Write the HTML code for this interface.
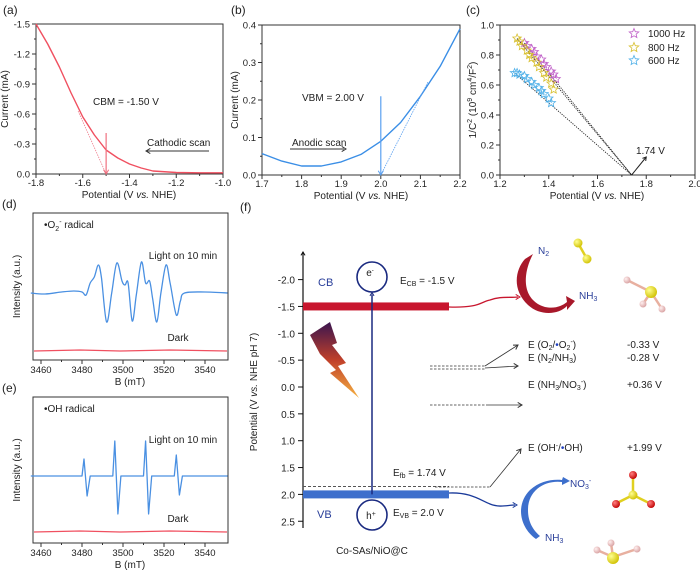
<!DOCTYPE html>
<html><head><meta charset="utf-8"><style>
html,body{margin:0;padding:0;background:#fff;}
svg{display:block;font-family:"Liberation Sans",Arial,sans-serif;}
</style></head><body>
<svg id="fig" width="700" height="574" viewBox="0 0 700 574" xmlns="http://www.w3.org/2000/svg">
<defs>
<linearGradient id="bolt" x1="0" y1="0" x2="0" y2="1"><stop offset="0" stop-color="#3a1550"/><stop offset="0.5" stop-color="#c0402a"/><stop offset="1" stop-color="#f5b040"/></linearGradient>
<radialGradient id="yb" cx="0.35" cy="0.35" r="0.7"><stop offset="0" stop-color="#ffff90"/><stop offset="1" stop-color="#d0c000"/></radialGradient>
<radialGradient id="pb" cx="0.35" cy="0.35" r="0.7"><stop offset="0" stop-color="#fff0f0"/><stop offset="1" stop-color="#d8a0a0"/></radialGradient>
<radialGradient id="rb" cx="0.35" cy="0.35" r="0.7"><stop offset="0" stop-color="#ff8080"/><stop offset="1" stop-color="#c00000"/></radialGradient>
</defs>
</svg>
<script>
// ---------- data ----------
const aX = [-1.8,-1.75,-1.7,-1.65,-1.6,-1.55,-1.5,-1.45,-1.4,-1.35,-1.3,-1.2,-1.1,-1.0];
const aY = [-1.5,-1.3,-1.07,-0.81,-0.57,-0.39,-0.24,-0.16,-0.1,-0.06,-0.03,-0.015,-0.012,-0.012];
const aTangent = [[-1.62,-0.63],[-1.5,0]];
const aTicksX = [-1.8,-1.6,-1.4,-1.2,-1.0];
const aTicksY = [0,-0.3,-0.6,-0.9,-1.2,-1.5];

const bX = [1.7,1.75,1.8,1.85,1.9,1.95,2.0,2.05,2.1,2.15,2.2];
const bY = [0.057,0.037,0.024,0.024,0.035,0.055,0.09,0.14,0.21,0.29,0.39];
const bTangent = [[2.0,0],[2.12,0.25]];
const bTicksX = [1.7,1.8,1.9,2.0,2.1,2.2];
const bTicksY = [0.0,0.1,0.2,0.3,0.4];

const cX1000 = [1.30,1.31,1.33,1.34,1.35,1.37,1.38,1.39,1.41,1.42,1.43];
const cY1000 = [0.88,0.86,0.84,0.82,0.79,0.77,0.74,0.72,0.69,0.67,0.64];
const cX800 = [1.27,1.28,1.29,1.31,1.32,1.33,1.35,1.36,1.38,1.39,1.41,1.42];
const cY800 = [0.91,0.89,0.86,0.83,0.80,0.78,0.75,0.72,0.68,0.65,0.61,0.57];
const cX600 = [1.26,1.27,1.28,1.30,1.31,1.33,1.34,1.36,1.37,1.38,1.40,1.41];
const cY600 = [0.68,0.68,0.67,0.66,0.64,0.62,0.60,0.58,0.56,0.54,0.51,0.48];
const cFb = 1.74;
const cTicksX = [1.2,1.4,1.6,1.8,2.0];
const cTicksY = [0.0,0.2,0.4,0.6,0.8,1.0];

const dB = [3455,3462,3470,3476,3480,3482,3484,3486,3488,3489.5,3492,3494.5,3497,3499.5,3501,3502.5,3504.5,3506.5,3509,3511,3513,3514.5,3516.5,3518.5,3521,3523,3526,3528,3530,3540,3551];
const dI = [0,-1,1,2,1,-2,10,16,28,15,-29,0,30,12,8,10,-28,-2,31,10,12,-6,-29,0,28,10,-22,-8,0,1,0];
const eB = [3455,3480,3481,3482.5,3484,3495,3496,3497.5,3499,3510,3511,3512.5,3514,3525,3526,3527.5,3529,3551];
const eI = [0,0,17,-20,0,0,35,-38,0,0,35,-38,0,0,21,-19,0,0];
const espTicks = [3460,3480,3500,3520,3540];

const fTicks = [-2.0,-1.5,-1.0,-0.5,0.0,0.5,1.0,1.5,2.0,2.5];
const fCB = -1.5, fVB = 2.0, fFb = 1.74;

// ---------- helpers ----------
const NS = "http://www.w3.org/2000/svg";
const svg = document.getElementById('fig');
function mk(tag, attrs, name, parent) {
  const el = document.createElementNS(NS, tag);
  for (const k in attrs) el.setAttribute(k, attrs[k]);
  
  
  (parent || svg).appendChild(el);
  return el;
}
function txt(x, y, s, name, opt) {
  opt = opt || {};
  const t = mk('text', {x:x, y:y, 'font-size':opt.fs||10, fill:opt.fill||'#222', 'text-anchor':opt.anchor||'start'}, name);
  if (opt.rot) t.setAttribute('transform', `rotate(${opt.rot} ${x} ${y})`);
  t.innerHTML = s;
  return t;
}
function line(x1,y1,x2,y2,name,st,w,dash){
  const l = mk('line',{x1:x1,y1:y1,x2:x2,y2:y2,stroke:st||'#333','stroke-width':w||1},name);
  if(dash) l.setAttribute('stroke-dasharray',dash);
  return l;
}
function poly(pts,name,st,w,dash){
  const p = mk('polyline',{points:pts.map(p=>p[0].toFixed(1)+','+p[1].toFixed(1)).join(' '),fill:'none',stroke:st,'stroke-width':w||1.3,'stroke-linejoin':'round'},name);
  if(dash) p.setAttribute('stroke-dasharray',dash);
  return p;
}
function smooth(pts,name,st,w){
  let d='M'+pts[0][0].toFixed(1)+','+pts[0][1].toFixed(1);
  for(let i=0;i<pts.length-1;i++){
    const p0=pts[Math.max(i-1,0)],p1=pts[i],p2=pts[i+1],p3=pts[Math.min(i+2,pts.length-1)];
    const c1=[p1[0]+(p2[0]-p0[0])/6,p1[1]+(p2[1]-p0[1])/6],c2=[p2[0]-(p3[0]-p1[0])/6,p2[1]-(p3[1]-p1[1])/6];
    d+=` C${c1[0].toFixed(1)},${c1[1].toFixed(1)} ${c2[0].toFixed(1)},${c2[1].toFixed(1)} ${p2[0].toFixed(1)},${p2[1].toFixed(1)}`;
  }
  return mk('path',{d:d,fill:'none',stroke:st,'stroke-width':w||1.3},name);
}
function arrowHead(x,y,ang,name,col,sz){
  sz=sz||5;
  const a1=ang+2.6,a2=ang-2.6;
  return mk('path',{d:`M${x+sz*Math.cos(a1)},${y+sz*Math.sin(a1)} L${x},${y} L${x+sz*Math.cos(a2)},${y+sz*Math.sin(a2)}`,fill:'none',stroke:col,'stroke-width':1},name);
}
function frame(x0,y0,x1,y1,name){
  mk('rect',{x:x0,y:y0,width:x1-x0,height:y1-y0,fill:'none',stroke:'#333','stroke-width':1},name);
}
function xTicks(vals,sx,yb,fmt,name,minor){
  vals.forEach((v,i)=>{
    line(sx(v),yb,sx(v),yb+4,name+'-tick');
    txt(sx(v),yb+12,fmt(v),name+'-label',{anchor:'middle',fs:9.5});
    if(minor && i<vals.length-1){const m=sx((v+vals[i+1])/2);line(m,yb,m,yb+2,name+'-minor-tick');}
  });
}
function yTicks(vals,sy,xl,fmt,name,minor){
  vals.forEach((v,i)=>{
    line(xl-4,sy(v),xl,sy(v),name+'-tick');
    txt(xl-6,sy(v)+3.5,fmt(v),name+'-label',{anchor:'end',fs:9.5});
    if(minor && i<vals.length-1){const m=sy((v+vals[i+1])/2);line(xl-2,m,xl,m,name+'-minor-tick');}
  });
}
function star(cx,cy,r,col,name){
  let d='';
  for(let k=0;k<10;k++){const rr=k%2?r*0.45:r;const a=-Math.PI/2+k*Math.PI/5;d+=(k?'L':'M')+(cx+rr*Math.cos(a)).toFixed(1)+','+(cy+rr*Math.sin(a)).toFixed(1);}
  mk('path',{d:d+'Z',fill:'none',stroke:col,'stroke-width':0.8},name);
}

// ---------- panel a ----------
const xa=v=>36+(v+1.8)/0.8*187, ya=v=>24+(v+1.5)/1.5*150;
txt(3,14,'(a)','panel-a-label',{fs:12});
frame(36,24,223,174,'panel-a-frame');
xTicks(aTicksX,xa,174,v=>v.toFixed(1),'a-x',true);
yTicks(aTicksY,ya,36,v=>v===0?'0.0':v.toFixed(1),'a-y',true);
txt(129,198,'Potential (V <tspan font-style="italic">vs.</tspan> NHE)','a-x-title',{anchor:'middle'});
txt(8,99,'Current (mA)','a-y-title',{anchor:'middle',rot:-90});
poly(aX.map((x,i)=>[xa(x),ya(aY[i])]),'a-current-curve','#f05060',1.4);
poly(aTangent.map(p=>[xa(p[0]),ya(p[1])]),'a-tangent-line','#f08090',0.8,'1.5,1');
line(xa(-1.5),ya(-0.41),xa(-1.5),ya(0)-1,'a-cbm-arrow','#f07080',1.2);
arrowHead(xa(-1.5),ya(0),Math.PI/2,'a-cbm-arrowhead','#f07080',5);
txt(93,105,'CBM = -1.50 V','a-cbm-text');
txt(147,146,'Cathodic scan','a-scan-text');
line(147,151,209,151,'a-scan-arrow','#333',1);
arrowHead(146,151,Math.PI,'a-scan-arrowhead','#333',5);

// ---------- panel b ----------
const xb=v=>262+(v-1.7)/0.5*198, yb=v=>175-v/0.4*150;
txt(231,14,'(b)','panel-b-label',{fs:12});
frame(262,25,460,175,'panel-b-frame');
xTicks(bTicksX,xb,175,v=>v.toFixed(1),'b-x',true);
yTicks(bTicksY,yb,262,v=>v.toFixed(1),'b-y',true);
txt(361,199,'Potential (V <tspan font-style="italic">vs.</tspan> NHE)','b-x-title',{anchor:'middle'});
txt(238,100,'Current (mA)','b-y-title',{anchor:'middle',rot:-90});
poly(bX.map((x,i)=>[xb(x),yb(bY[i])]),'b-current-curve','#3a8ee6',1.4);
poly(bTangent.map(p=>[xb(p[0]),yb(p[1])]),'b-tangent-line','#5aa0f0',0.8,'1.5,1');
line(xb(2.0),yb(0.21),xb(2.0),yb(0)-1,'b-vbm-arrow','#5aa0f0',1.2);
arrowHead(xb(2.0),yb(0),Math.PI/2,'b-vbm-arrowhead','#5aa0f0',5);
txt(302,101,'VBM = 2.00 V','b-vbm-text');
txt(292,146,'Anodic scan','b-scan-text');
line(290,149,344,149,'b-scan-arrow','#333',1);
arrowHead(346,149,0,'b-scan-arrowhead','#333',5);

// ---------- panel c ----------
const xc=v=>500+(v-1.2)/0.8*195, yc=v=>175-v*150;
txt(466,14,'(c)','panel-c-label',{fs:12});
frame(500,25,695,175,'panel-c-frame');
xTicks(cTicksX,xc,175,v=>v.toFixed(1),'c-x',true);
yTicks(cTicksY,yc,500,v=>v.toFixed(1),'c-y',true);
txt(597,199,'Potential (V <tspan font-style="italic">vs.</tspan> NHE)','c-x-title',{anchor:'middle'});
txt(476,100,'1/C<tspan font-size="7" dy="-4">2</tspan><tspan dy="4"> (10</tspan><tspan font-size="7" dy="-4">9</tspan><tspan dy="4"> cm</tspan><tspan font-size="7" dy="-4">4</tspan><tspan dy="4">/F</tspan><tspan font-size="7" dy="-4">2</tspan><tspan dy="4">)</tspan>','c-y-title',{anchor:'middle',rot:-90});
[[cX1000,cY1000,'#c060c8','1000'],[cX800,cY800,'#d8c030','800'],[cX600,cY600,'#50b0e8','600']].forEach(s=>{
  poly([[xc(s[0][0]),yc(s[1][0])],[xc(cFb),yc(0)]],'c-fit-line-'+s[3],'#222',0.9,'1.2,1.2');
  s[0].forEach((x,i)=>star(xc(x),yc(s[1][i]),4.5,s[2],'c-point-'+s[3]));
});
line(xc(cFb),yc(0),xc(1.8),yc(0.12),'c-fb-arrow','#222',1);
arrowHead(xc(1.8),yc(0.12),Math.atan2(yc(0.12)-yc(0),xc(1.8)-xc(cFb)),'c-fb-arrowhead','#222',4);
txt(636,154,'1.74 V','c-fb-text');
[['1000 Hz','#c060c8',37],['800 Hz','#d8c030',51],['600 Hz','#50b0e8',64]].forEach(l=>{
  star(634,l[2]-3.5,5,l[1],'c-legend-marker');
  txt(648,l[2],l[0],'c-legend-entry');
});

// ---------- panel d / e ----------
const xe=v=>41+(v-3460)*2.05;
function esr(top,bot,base,dark,B,I,lab,title,name,sm){
  frame(33,top,228,bot,name+'-frame');
  espTicks.forEach(v=>{line(xe(v),bot,xe(v),bot+4,name+'-x-tick');txt(xe(v),bot+13,v,name+'-x-label',{anchor:'middle',fs:9.5});});
  espTicks.slice(0,-1).forEach(v=>line(xe(v+10),bot,xe(v+10),bot+2,name+'-x-minor-tick'));
  txt(130,bot+25,'B (mT)',name+'-x-title',{anchor:'middle'});
  txt(20,(top+bot)/2,'Intensity (a.u.)',name+'-y-title',{anchor:'middle',rot:-90});
  const pts=B.map((b,i)=>[xe(b),base-I[i]]);
  if(sm) smooth(pts,name+'-light-spectrum','#4a90e2',1.3); else poly(pts,name+'-light-spectrum','#4a90e2',1.3);
  poly([[34,dark],[80,dark-1],[120,dark],[170,dark-1],[227,dark]],name+'-dark-spectrum','#f05060',1.3);
  txt(178,dark-10,'Dark',name+'-dark-label',{anchor:'middle'});
  txt(183,top+46,'Light on 10 min',name+'-light-label',{anchor:'middle'});
  txt(44,top+15,title,name+'-title');
  txt(2,top-5,lab,name+'-panel-label',{fs:12});
}
esr(213,360,293,351,dB,dI,'(d)','•O<tspan font-size="7" dy="3">2</tspan><tspan font-size="7" dy="-7">-</tspan><tspan dy="4"> radical</tspan>','panel-d',true);
esr(397,543,476,532,eB,eI,'(e)','•OH radical','panel-e',false);

// ---------- panel f ----------
const yf=v=>387+v*53.7;
txt(240,211,'(f)','panel-f-label',{fs:12});
line(303,252,303,528,'f-y-axis','#111',1.2);
arrowHead(303,252,-Math.PI/2,'f-y-axis-arrowhead','#111',4);
fTicks.forEach(v=>{line(298,yf(v),303,yf(v),'f-y-tick','#111');txt(295,yf(v)+4,v.toFixed(1),'f-y-label',{anchor:'end'});});
txt(257,392,'Potential (V <tspan font-style="italic">vs.</tspan> NHE pH 7)','f-y-title',{anchor:'middle',rot:-90});
line(303,yf(fFb)+6,449,yf(fFb)+6,'f-efb-line','#555',1,'3,2');
mk('rect',{x:303,y:yf(fCB)-4,width:146,height:8,fill:'#c8162e'},'f-cb-bar');
mk('rect',{x:303,y:yf(fVB)-4,width:146,height:8,fill:'#3d6fcc'},'f-vb-bar');
line(372,yf(fVB),372,yf(fCB)-12,'f-excitation-arrow','#1a2a80',1.5);
arrowHead(372,yf(fCB)-14,-Math.PI/2,'f-excitation-arrowhead','#1a2a80',4);
mk('circle',{cx:372,cy:277,r:15,fill:'#fff',stroke:'#1a2a80','stroke-width':1.6},'f-electron-circle');
mk('circle',{cx:372,cy:515,r:15,fill:'#fff',stroke:'#1a2a80','stroke-width':1.6},'f-hole-circle');
txt(370,276,'e<tspan font-size="6" dy="-4">-</tspan>','f-electron-label',{anchor:'middle'});
txt(371,519,'h<tspan font-size="7" dy="-3">+</tspan>','f-hole-label',{anchor:'middle'});
txt(318,286,'CB','f-cb-label',{fill:'#2a3f9a',fs:11});
txt(317,518,'VB','f-vb-label',{fill:'#2a3f9a',fs:11});
txt(400,284,'E<tspan font-size="7" dy="2">CB</tspan><tspan dy="-2"> = -1.5 V</tspan>','f-ecb-text');
txt(393,516,'E<tspan font-size="7" dy="2">VB</tspan><tspan dy="-2"> = 2.0 V</tspan>','f-evb-text');
txt(393,476,'E<tspan font-size="7" dy="2">fb</tspan><tspan dy="-2"> = 1.74 V</tspan>','f-efb-text');
txt(372,554,'Co-SAs/NiO@C','f-material-label',{anchor:'middle'});
mk('polygon',{points:'310,335 330,322 337,343 332,345 346,363 338,366 359,398 330,373 336,370 320,354',fill:'url(#bolt)'},'f-light-bolt');
line(430,366,485,366,'f-dash-o2','#333',0.8,'2.5,1.5');
line(430,369,485,369,'f-dash-n2','#333',0.8,'2.5,1.5');
line(485,366,518,345,'f-arrow-o2','#333',0.8);arrowHead(518,345,Math.atan2(-21,33),'f-arrowhead-o2','#333',5);
line(485,368,518,366,'f-arrow-n2','#333',0.8);arrowHead(518,366,0,'f-arrowhead-n2','#333',5);
line(430,405,488,405,'f-dash-nh3','#333',0.8,'2.5,1.5');
line(488,405,522,405,'f-arrow-nh3','#333',0.8);arrowHead(522,405,0,'f-arrowhead-nh3','#333',5);
line(435,487,490,487,'f-dash-oh','#333',0.8,'2.5,1.5');
line(490,487,521,449,'f-arrow-oh','#333',0.8);arrowHead(521,449,Math.atan2(-38,31),'f-arrowhead-oh','#333',5);
txt(528,348,'E (O<tspan font-size="7" dy="2">2</tspan><tspan dy="-2">/</tspan><tspan fill="#2040c0">•</tspan>O<tspan font-size="7" dy="2">2</tspan><tspan font-size="7" dy="-6">-</tspan><tspan dy="4">)</tspan>','f-o2-label');
txt(528,361,'E (N<tspan font-size="7" dy="2">2</tspan><tspan dy="-2">/NH</tspan><tspan font-size="7" dy="2">3</tspan><tspan dy="-2">)</tspan>','f-n2-label');
txt(528,388,'E (NH<tspan font-size="7" dy="2">3</tspan><tspan dy="-2">/NO</tspan><tspan font-size="7" dy="2">3</tspan><tspan font-size="7" dy="-6">-</tspan><tspan dy="4">)</tspan>','f-no3-label');
txt(528,451,'E (OH<tspan font-size="7" dy="-3">-</tspan><tspan dy="3">/</tspan><tspan fill="#2040c0">•</tspan>OH)','f-oh-label');
txt(627,348,'-0.33 V','f-o2-value');txt(627,361,'-0.28 V','f-n2-value');
txt(627,388,'+0.36 V','f-no3-value');txt(627,451,'+1.99 V','f-oh-value');
mk('path',{d:'M449,307 C480,308 480,302 490,300 C500,296 510,298 518,297',fill:'none',stroke:'#c8162e','stroke-width':1.3},'f-cb-to-n2-arrow');
arrowHead(520,297,0,'f-cb-arrowhead','#c8162e',5);
mk('path',{d:'M525,259 L533,254 C522,275 522,300 545,307 C555,309 562,306 567,302 L566,296 L575,301 L567,310 L567,306 C558,315 540,316 528,305 C512,290 515,270 525,259Z',fill:'#a8182a'},'f-red-cycle-arrow');
txt(538,254,'N<tspan font-size="7" dy="2">2</tspan>','f-n2-text',{fill:'#2a3f9a'});
txt(579,299,'NH<tspan font-size="7" dy="2">3</tspan>','f-nh3-top-text',{fill:'#2a3f9a'});
mk('path',{d:'M449,493 C470,492 480,500 490,504 C500,508 508,505 515,505',fill:'none',stroke:'#1a3a9a','stroke-width':1.3},'f-vb-to-nh3-arrow');
arrowHead(517,505,0,'f-vb-arrowhead','#1a3a9a',5);
mk('path',{d:'M563,477 L570,481 L562,485 L562,482 C545,480 528,490 528,510 C528,522 533,530 540,536 L536,539 C520,528 515,505 530,490 C540,481 552,479 562,480Z',fill:'#3d6fcc'},'f-blue-cycle-arrow');
txt(570,487,'NO<tspan font-size="7" dy="2">3</tspan><tspan font-size="7" dy="-6">-</tspan>','f-no3-text',{fill:'#2a3f9a'});
txt(545,541,'NH<tspan font-size="7" dy="2">3</tspan>','f-nh3-bottom-text',{fill:'#2a3f9a'});
function bond(x1,y1,x2,y2,c,n){line(x1,y1,x2,y2,n,c,2.5);}
function ball(x,y,r,g,n){mk('circle',{cx:x,cy:y,r:r,fill:g},n);}
bond(578,243,587,259,'#e0d020','f-n2-bond');ball(578,243,4.5,'url(#yb)','f-n2-atom');ball(587,259,4.5,'url(#yb)','f-n2-atom');
bond(627,280,651,292,'#e8b0a0','f-nh3-bond');bond(651,292,643,304,'#e8b0a0','f-nh3-bond');bond(651,292,662,309,'#e8b0a0','f-nh3-bond');
ball(627,280,3.5,'url(#pb)','f-h-atom');ball(643,304,3.5,'url(#pb)','f-h-atom');ball(662,309,3.5,'url(#pb)','f-h-atom');ball(651,292,6,'url(#yb)','f-n-atom');
bond(633,495,633,475,'#e0d020','f-no3-bond');bond(633,495,615,504,'#e0d020','f-no3-bond');bond(633,495,651,504,'#e0d020','f-no3-bond');
ball(633,475,4,'url(#rb)','f-o-atom');ball(616,504,4,'url(#rb)','f-o-atom');ball(651,504,4,'url(#rb)','f-o-atom');ball(633,495,4.5,'url(#yb)','f-no3-n-atom');
bond(613,557,597,550,'#e8b0a0','f-nh3b-bond');bond(613,557,611,543,'#e8b0a0','f-nh3b-bond');bond(613,557,637,549,'#e8b0a0','f-nh3b-bond');
ball(597,550,3.5,'url(#pb)','f-h-atom');ball(611,543,3.5,'url(#pb)','f-h-atom');ball(637,549,3.5,'url(#pb)','f-h-atom');ball(613,558,6,'url(#yb)','f-n-atom');
</script>
</body></html>
